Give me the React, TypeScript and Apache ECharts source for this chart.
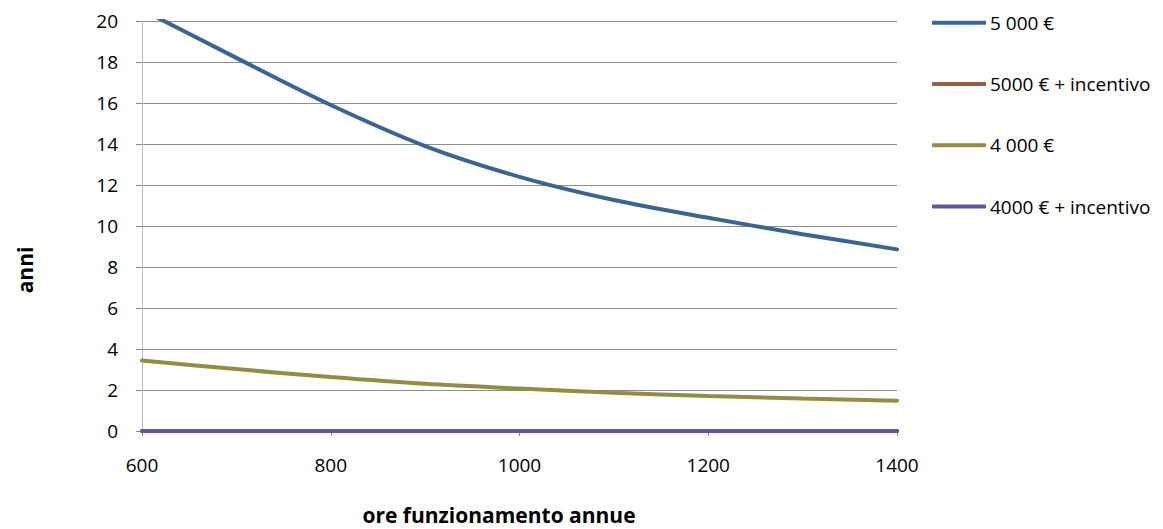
import React, { useEffect, useRef } from "react";
import * as echarts from "echarts";

const hours = [600, 700, 800, 900, 1000, 1100, 1200, 1300, 1400];
const s5000 = [20.55, 18.2, 15.9, 13.9, 12.4, 11.27, 10.4, 9.6, 8.86];
const s5000Inc = [0, 0, 0, 0, 0, 0, 0, 0, 0];
const s4000 = [3.44, 3.02, 2.63, 2.3, 2.07, 1.87, 1.71, 1.58, 1.48];
const s4000Inc = [0, 0, 0, 0, 0, 0, 0, 0, 0];

const seriesNames = ["5 000 €", "5000 € + incentivo", "4 000 €", "4000 € + incentivo"];
const seriesColors = ["#3A6496", "#9B5B3E", "#958C43", "#6650A8"];
const seriesData = [s5000, s5000Inc, s4000, s4000Inc];

const xAxisName = "ore funzionamento annue";
const yAxisName = "anni";

const FONT = "'Open Sans', 'Noto Sans', sans-serif";

export default function App() {
  const ref = useRef<HTMLDivElement>(null);
  useEffect(() => {
    document.body.style.margin = "0";
    const chart = echarts.init(ref.current!, null, { renderer: "svg" });
    chart.setOption({
      animation: false,
      backgroundColor: "#ffffff",
      grid: { left: 142, top: 21, width: 755, height: 410, containLabel: false },
      legend: {
        orient: "vertical",
        left: 932,
        top: 12.7,
        padding: 0,
        itemWidth: 54,
        itemHeight: 4,
        itemGap: 41.3,
        icon: "roundRect",
        data: seriesNames,
        textStyle: { fontFamily: FONT, fontSize: 19, color: "#000", lineHeight: 20, padding: [0, 0, 0, -1] },
      },
      xAxis: {
        type: "value",
        min: 600,
        max: 1400,
        interval: 200,
        axisLine: { show: true, lineStyle: { color: "#888888", width: 1 } },
        axisTick: { show: true, length: 5, lineStyle: { color: "#888888" } },
        splitLine: { show: false },
        axisLabel: {
          fontFamily: FONT,
          fontSize: 19,
          color: "#000",
          margin: 24,
          formatter: (v: number) => String(v),
        },
      },
      yAxis: {
        type: "value",
        min: 0,
        max: 20,
        interval: 2,
        axisLine: { show: true, lineStyle: { color: "#BFBFBF", width: 1 } },
        axisTick: { show: true, length: 6, lineStyle: { color: "#888888" } },
        splitLine: { show: true, lineStyle: { color: "#8C8C8C", width: 1 } },
        axisLabel: { fontFamily: FONT, fontSize: 19, color: "#000", margin: 24 },
      },
      series: seriesNames.map((name, i) => ({
        name,
        type: "line",
        data: hours.map((h, j) => [h, seriesData[i][j]]),
        smooth: 0.3,
        symbol: "none",
        clip: true,
        color: seriesColors[i],
        lineStyle: { width: 4, color: seriesColors[i], cap: "round" },
      })),
      graphic: [
        {
          type: "text",
          x: 25,
          y: 270,
          rotation: Math.PI / 2,
          style: {
            text: yAxisName,
            fontFamily: FONT,
            fontSize: 21,
            fontWeight: "bold",
            fill: "#000",
            align: "center",
            verticalAlign: "middle",
          },
        },
        {
          type: "text",
          x: 499,
          y: 515,
          style: {
            text: xAxisName,
            fontFamily: FONT,
            fontSize: 21,
            fontWeight: "bold",
            fill: "#000",
            align: "center",
            verticalAlign: "middle",
          },
        },
      ],
    });
    return () => chart.dispose();
  }, []);
  return <div ref={ref} style={{ width: 1163, height: 529 }} />;
}
